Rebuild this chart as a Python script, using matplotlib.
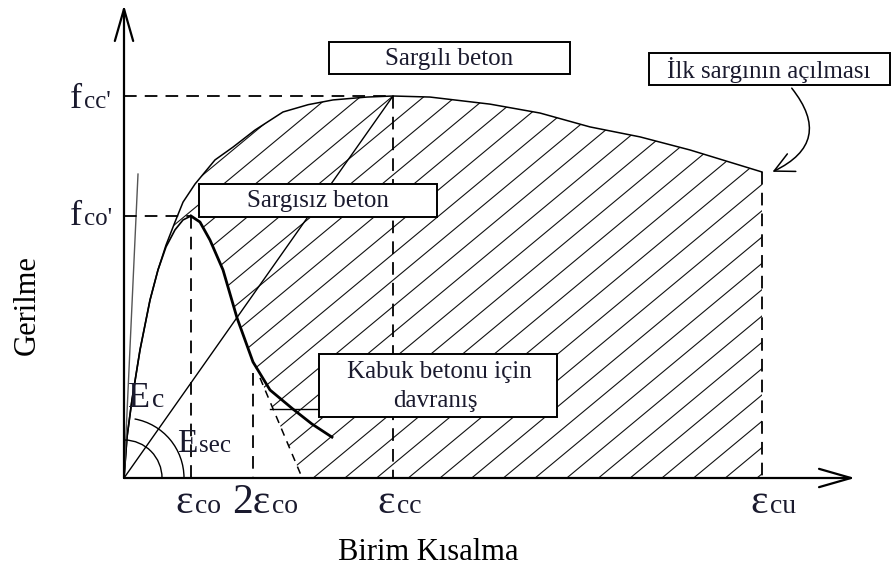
import numpy as np
import matplotlib.pyplot as plt
from matplotlib.patches import Polygon, Arc, Rectangle, FancyArrowPatch
from matplotlib.collections import LineCollection

# okunan degerler (birim: eps_co = 1, f_co' = 1)
eps_conf = [0.0, 0.045, 0.119, 0.239, 0.388, 0.507, 0.627, 0.761, 0.881, 1.060,
            1.358, 1.627, 1.955, 2.373, 2.750, 3.119, 3.627, 4.015, 4.567, 5.463,
            6.209, 6.955, 7.701, 8.448, 9.522]
sig_conf = [0.0, 0.156, 0.298, 0.489, 0.679, 0.794, 0.889, 0.977, 1.053, 1.122,
            1.214, 1.263, 1.328, 1.397, 1.425, 1.443, 1.454, 1.458, 1.454, 1.427,
            1.393, 1.340, 1.302, 1.252, 1.168]

eps_unconf = [0.0, 0.045, 0.119, 0.239, 0.388, 0.507, 0.627, 0.761, 0.881, 1.0]
sig_unconf = [0.0, 0.156, 0.298, 0.489, 0.679, 0.794, 0.882, 0.947, 0.985, 1.0]
eps_soft = [1.0, 1.134, 1.284, 1.478, 1.687, 1.925, 2.179, 2.522, 2.806, 3.104]
sig_soft = [1.0, 0.977, 0.908, 0.794, 0.611, 0.443, 0.336, 0.263, 0.206, 0.156]

eps_spall = [2.03, 2.66]
sig_spall = [0.382, 0.0]

eps_co, eps_2co, eps_cc, eps_cu = 1.0, 1.93, 4.015, 9.522
f_co, f_cc, f_cu = 1.0, 1.458, 1.168
E_c_end = (0.209, 1.16)

# piksel -> veri donusumu (sadece yerlesim icin)
X0, Y0, SX, SY = 124, 478, 67.0, 262.0
def px(x, y):
    return (x - X0) / SX, (Y0 - y) / SY

serif = 'Liberation Serif'
tcol = '#1a1a2e'

fig = plt.figure(figsize=(8.91, 5.74), dpi=100)
ax = fig.add_axes([0, 0, 1, 1])
ax.set_xlim(-X0 / SX, (891 - X0) / SX)
ax.set_ylim((Y0 - 574) / SY, Y0 / SY)
ax.axis('off')

# taralı alan
poly_x = eps_conf + [eps_cu, eps_spall[1], eps_spall[0]] + eps_soft[5::-1] + eps_unconf[::-1]
poly_y = sig_conf + [0.0, sig_spall[1], sig_spall[0]] + sig_soft[5::-1] + sig_unconf[::-1]
clip = Polygon(np.column_stack([poly_x, poly_y]), closed=True, fill=False, lw=0)
ax.add_patch(clip)
slope = 0.83 * SX / SY
step = 31.7 / SX
starts = (440 - X0) / SX + step * np.arange(-40, 20)
segs = [[(x0, 0.0), (x0 + 1.6 / slope, 1.6)] for x0 in starts]
hatch = LineCollection(segs, colors='#111111', linewidths=0.8, zorder=1)
hatch.set_clip_path(clip)
ax.add_collection(hatch)

# egriler
ax.plot(eps_conf, sig_conf, color='black', lw=1.1, zorder=2)
ax.plot(eps_unconf, sig_unconf, color='black', lw=1.2, zorder=2)
ax.plot(eps_soft, sig_soft, color='black', lw=2.0, zorder=2)
ax.plot(eps_spall, sig_spall, color='black', lw=1.1, ls=(0, (5, 4)), zorder=2)
ax.plot([0, E_c_end[0]], [0, E_c_end[1]], color='#555555', lw=1.0, zorder=2)
ax.plot([0, eps_cc], [0, f_cc], color='black', lw=1.0, zorder=2)

dash = dict(color='black', lw=1.3, ls=(0, (7, 4.5)), zorder=2)
ax.plot([0, eps_cc], [f_cc, f_cc], **dash)
ax.plot([eps_cc, eps_cc], [f_cc, 0], **dash)
ax.plot([0, eps_co], [f_co, f_co], **dash)
ax.plot([eps_co, eps_co], [f_co, 0], **dash)
ax.plot([eps_2co, eps_2co], [0.40, 0], **dash)
ax.plot([eps_cu, eps_cu], [f_cu, 0], **dash)

# acilar
for r, t2 in [(38, 87), (60, 55)]:
    ax.add_patch(Arc((0, 0), 2 * r / SX, 2 * r / SY, theta1=0, theta2=t2,
                     color='black', lw=1.0, zorder=2))

# eksenler
head = '->,head_length=1.15,head_width=0.33'
ax.annotate('', xy=px(124, 5), xytext=(0, 0),
            arrowprops=dict(arrowstyle=head, lw=1.6, color='black',
                            shrinkA=0, shrinkB=0, mutation_scale=20))
ax.annotate('', xy=px(855, 478), xytext=(0, 0),
            arrowprops=dict(arrowstyle=head, lw=1.6, color='black',
                            shrinkA=0, shrinkB=0, mutation_scale=20))

# kutular
def box(x1, y1, x2, y2):
    a = px(x1, y2)
    b = px(x2, y1)
    ax.add_patch(Rectangle(a, b[0] - a[0], b[1] - a[1], facecolor='white',
                           edgecolor='black', lw=1.4, zorder=3))

box(329, 42, 570, 74)
ax.text(*px(449, 59), 'Sargılı beton', family=serif, size=18, color=tcol,
        ha='center', va='center', zorder=4)
box(199, 184, 437, 217)
ax.text(*px(318, 201), 'Sargısız beton', family=serif, size=18, color=tcol,
        ha='center', va='center', zorder=4)
box(649, 53, 890, 85)
ax.text(*px(769, 70), 'İlk sargının açılması', family=serif, size=18, color=tcol,
        ha='center', va='center', zorder=4)
box(319, 354, 557, 417)
ax.text(*px(439, 372), 'Kabuk betonu için', family=serif, size=18, color=tcol,
        ha='center', va='center', zorder=4)
ax.text(*px(435, 401), 'davranış', family=serif, size=18, color=tcol,
        ha='center', va='center', zorder=4)
ax.plot(*zip(px(270, 409), px(319, 409)), color='black', lw=1.0, zorder=2)

arr = FancyArrowPatch(px(790, 86), px(770, 173), connectionstyle='arc3,rad=-0.65',
                      arrowstyle='->,head_length=0.7,head_width=0.35',
                      mutation_scale=20, lw=1.1, color='black', zorder=4)
ax.add_patch(arr)

# etiketler
def label(xr, yb, big, small, bs, ss):
    ax.text(*px(xr, yb), big, family=serif, size=bs, color=tcol, ha='right', va='baseline')
    ax.text(*px(xr + 2, yb), small, family=serif, size=ss, color=tcol, ha='left', va='baseline')

label(82, 108, 'f', "cc'", 26, 18)
label(82, 225, 'f', "co'", 26, 18)
label(150, 407, 'E', 'c', 26, 20)
label(197, 452, 'E', 'sec', 24, 18)
label(193, 513, 'ε', 'co', 30, 20)
label(270, 513, '2ε', 'co', 30, 20)
label(395, 513, 'ε', 'cc', 30, 20)
label(768, 513, 'ε', 'cu', 30, 20)

ax.text(*px(428, 553), 'Birim Kısalma', family=serif, size=22, color='black',
        ha='center', va='center')
ax.text(*px(27, 305), 'Gerilme', family=serif, size=22, color='black',
        ha='center', va='center', rotation=90)

fig.savefig('out.png', dpi=100)
